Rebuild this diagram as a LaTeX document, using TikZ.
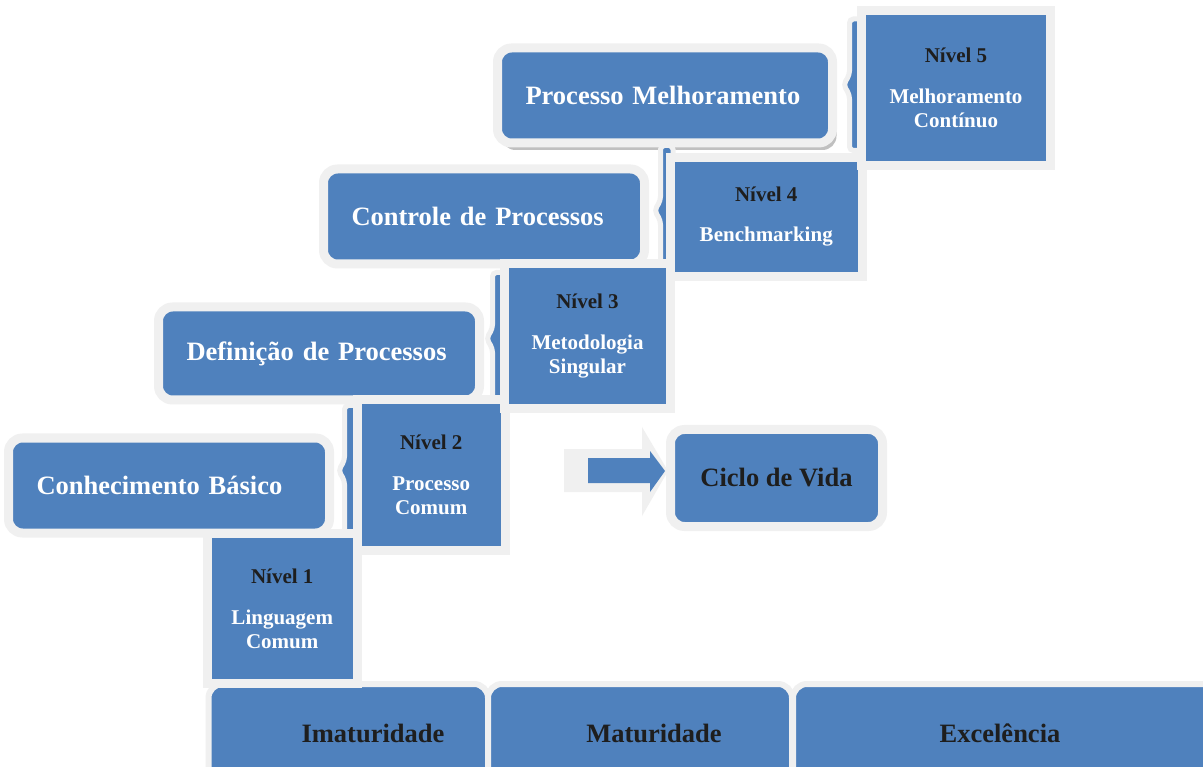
\documentclass[tikz,border=0pt]{standalone}
\usepackage{fontspec}
\setmainfont{Liberation Serif}
\usetikzlibrary{shadows}
\definecolor{stepblue}{HTML}{4F81BD}
\definecolor{rim}{HTML}{F0F0F0}
\definecolor{ink}{HTML}{1E1E1E}
\tikzset{%
    stage/.style={
      rectangle,
      rounded corners=14pt,
      fill=stepblue,
      draw=rim,
      line width=9pt,
      text=white,
      font=\fontsize{26.5}{30}\selectfont\bfseries,
      text width=265pt,
      align=left,
      inner xsep=28pt,
      inner ysep=0pt,
      minimum height=95pt
    },
    level/.style={
      rectangle,
      fill=stepblue,
      draw=rim,
      line width=9pt,
      text=white,
      font=\fontsize{21}{24}\selectfont\bfseries,
      align=center,
      inner sep=0pt
    },
    phase/.style={
      rectangle,
      rounded corners=14pt,
      fill=stepblue,
      draw=rim,
      line width=6pt,
      inner sep=0pt
    },
    phase text/.style={
      text=ink,
      font=\fontsize{26.5}{30}\selectfont\bfseries
    },
    brace/.style={
      fill=stepblue,
      draw=rim,
      line width=5pt,
      rounded corners=4pt
    }
  }
% #1 left x, #2 top y, #3 bottom y, #4 right x
\newcommand{\levelbrace}[4]{%
  \draw[brace] (#4,#2) -- (#1,#2) -- (#1,{(#2+#3)/2-10}) -- ({#1-6},{(#2+#3)/2})
    -- (#1,{(#2+#3)/2+10}) -- (#1,#3) -- (#4,#3) -- cycle;
}
\begin{document}
\begin{tikzpicture}[x=1pt, y=-1pt]
      \clip (0,0) rectangle (1203,767);
      \fill[white] (0,0) rectangle (1203,767);

      % phases at the bottom
      \node [phase, minimum width=279.5pt, minimum height=118pt] (imat) at (348.25,743) {};
      \node [phase, minimum width=304pt, minimum height=118pt] (mat) at (640,743) {};
      \node [phase, minimum width=422pt, minimum height=118pt] (exc) at (1004,743) {};
      \node [phase text] (imat-t) at (373,733) {Imaturidade};
      \node [phase text] (mat-t) at (654,733) {Maturidade};
      \node [phase text] (exc-t) at (1000,733) {Excelência};

      % stages
      \node [stage] (basico) at (169,485.5) {Conhecimento Básico};
      \node [stage, minimum height=93pt] (definicao) at (319,353.5) {Definição de Processos};
      \node [stage] (controle) at (484,216.5) {Controle de Processos};
      \node [stage, text width=279pt, drop shadow={shadow xshift=4pt, shadow yshift=-7pt, opacity=.35, fill=black!70}] (melhoria) at (665,95.5) {Processo Melhoramento};

      % braces
      \levelbrace{344.5}{405.5}{535.5}{360}
      \levelbrace{492.5}{272.5}{404.5}{507}
      \levelbrace{660.5}{145.5}{275.5}{673}
      \levelbrace{849.5}{19}{150.5}{864}

      % levels
      \node [level, minimum width=150.5pt, minimum height=150pt] (n1) at (282.25,608.5)
        {\textcolor{ink}{Nível 1}\\[17pt] Linguagem\\ Comum};
      \node [level, minimum width=147.5pt, minimum height=151pt] (n2) at (431.25,475)
        {\textcolor{ink}{Nível 2}\\[17pt] Processo\\ Comum};
      \node [level, minimum width=166pt, minimum height=145pt] (n3) at (587.5,336)
        {\textcolor{ink}{Nível 3}\\[17pt] Metodologia\\ Singular};
      \node [level, minimum width=191.5pt, minimum height=119pt] (n4) at (766.25,217)
        {\textcolor{ink}{Nível 4}\\[16pt] Benchmarking};
      \node [level, minimum width=189pt, minimum height=155pt] (n5) at (956,88)
        {\textcolor{ink}{Nível 5}\\[17pt] Melhoramento\\ Contínuo};

      % arrow to the life cycle
      \fill[rim] (564,449) -- (642,449) -- (642,427) -- (668,471) -- (642,516)
        -- (642,492) -- (564,492) -- cycle;
      \fill[stepblue] (588,458) -- (650,458) -- (650,451) -- (665,471) -- (650,492)
        -- (650,483) -- (588,483) -- cycle;

      \node [level, rounded corners=14pt, text=ink, font=\fontsize{26.5}{30}\selectfont\bfseries,
        minimum width=212pt, minimum height=97pt] (ciclo) at (776.5,478) {Ciclo de Vida};
\end{tikzpicture}
\end{document}
